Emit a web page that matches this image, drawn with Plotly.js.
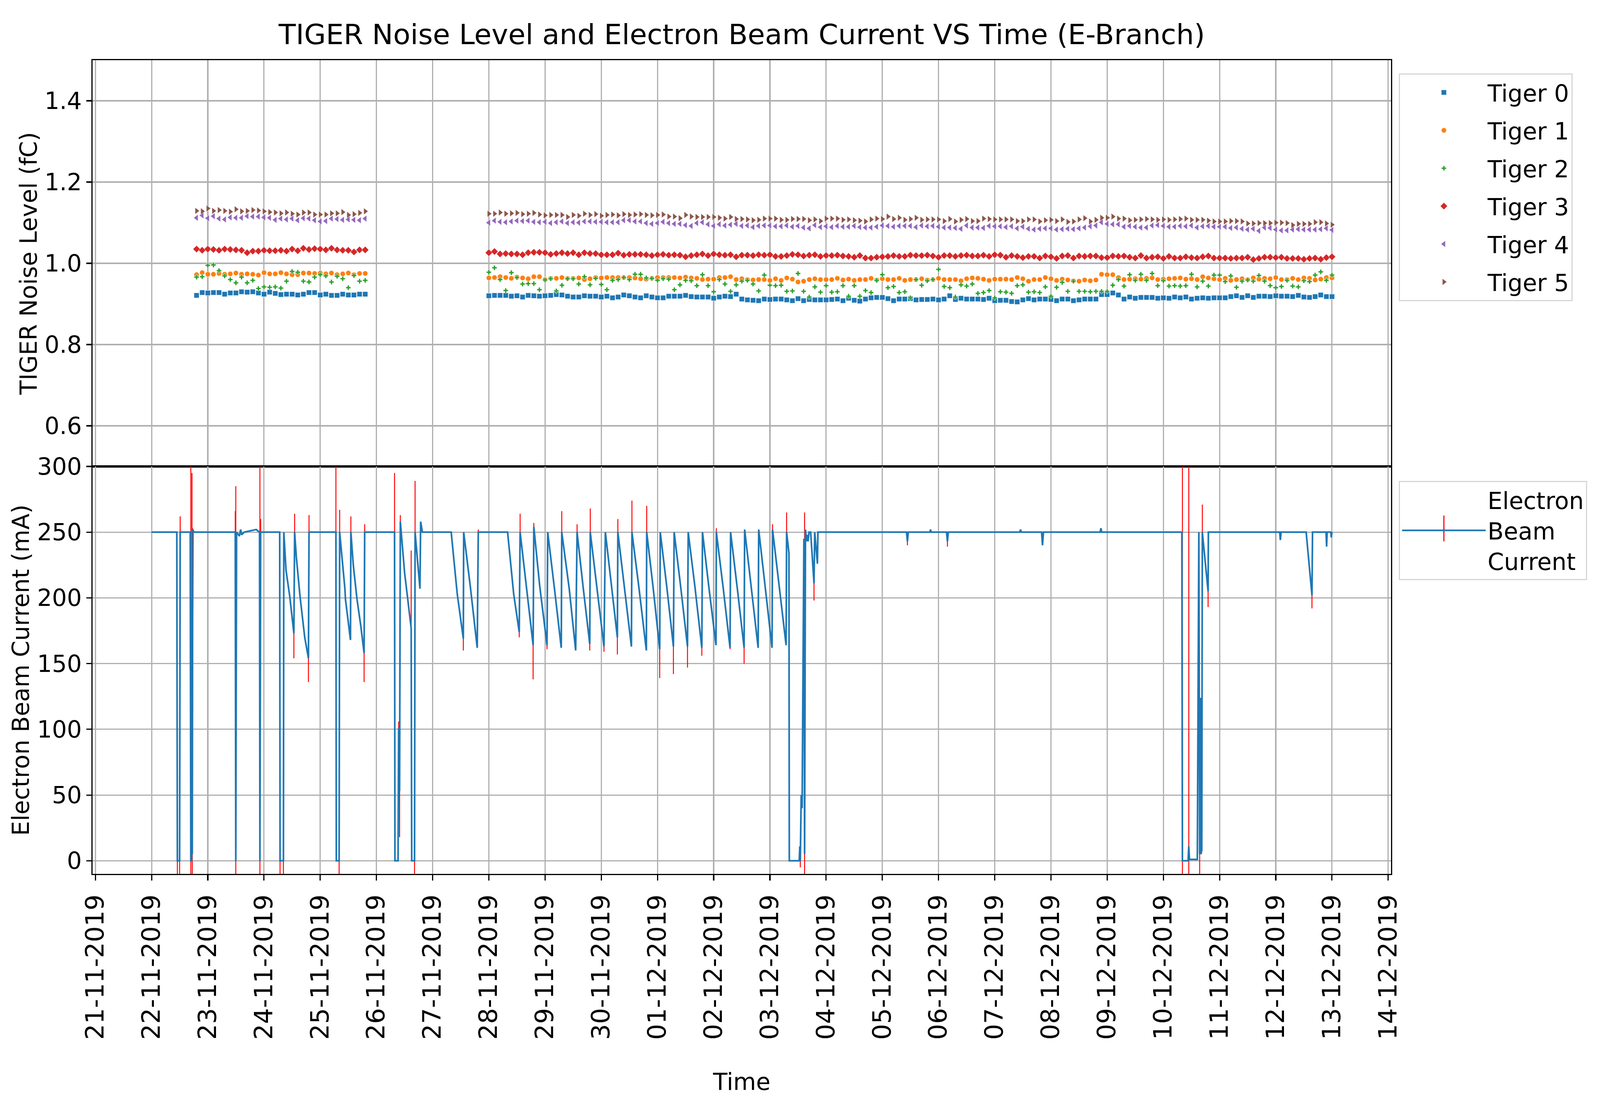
<!DOCTYPE html>
<html><head><meta charset="utf-8">
<script src="https://cdn.plot.ly/plotly-3.0.1.min.js"></script>
<style>html,body{margin:0;padding:0;background:#fff;overflow:hidden;}</style>
</head><body><div id="chart"></div>
<script>
// ---------- DATA ----------
const seriesNames = ['Tiger 0', 'Tiger 1', 'Tiger 2', 'Tiger 3', 'Tiger 4', 'Tiger 5'];
const seriesColors = ['#1f77b4', '#ff7f0e', '#2ca02c', '#d62728', '#9467bd', '#8c564b'];
const seriesSymbols = ['square', 'circle', 'cross', 'diamond', 'triangle-left', 'triangle-right'];
const seriesSizes = [13, 13, 10.5, 14, 15, 15];

// noise samples every 2.4 h, two runs
const run1Start = '2019-11-22T19:12:00Z', run1Count = 31;
const run2Start = '2019-11-28T00:00:00Z', run2Count = 151;
const sampleHours = 2.4;

const tiger0 = [0.921,0.928,0.927,0.928,0.928,0.924,0.927,0.927,0.930,0.929,0.930,0.927,0.924,0.929,0.926,0.923,0.924,0.924,0.922,0.924,0.928,0.928,0.922,0.924,0.921,0.921,0.924,0.922,0.922,0.924,0.924,
0.920,0.921,0.921,0.921,0.919,0.920,0.917,0.921,0.920,0.919,0.920,0.921,0.923,0.922,0.919,0.917,0.917,0.920,0.919,0.919,
0.917,0.919,0.915,0.917,0.922,0.920,0.917,0.915,0.920,0.917,0.915,0.915,0.919,0.919,0.919,0.921,0.918,0.917,0.917,0.917,
0.914,0.917,0.919,0.918,0.924,0.912,0.910,0.909,0.908,0.912,
0.911,0.912,0.912,0.910,0.908,0.913,0.908,0.911,0.910,0.910,0.910,0.911,0.912,0.908,0.914,0.909,0.907,0.912,0.915,0.916,
0.916,0.913,0.908,0.912,0.912,0.913,0.910,0.911,0.911,0.912,0.910,0.912,0.920,0.911,0.914,0.912,0.912,0.912,0.911,0.914,
0.908,0.909,0.909,0.906,0.905,0.910,0.913,0.910,0.912,0.912,
0.911,0.908,0.912,0.912,0.908,0.910,0.912,0.912,0.912,0.923,0.923,0.927,0.922,0.912,0.917,0.914,0.916,0.916,0.916,0.914,
0.915,0.914,0.917,0.915,0.917,0.912,0.914,0.915,0.914,0.915,0.915,0.915,0.918,0.920,0.916,0.920,0.916,0.919,0.919,0.918,
0.920,0.919,0.919,0.918,0.921,0.917,0.916,0.918,0.922,0.918,0.918];

const tiger1 = [0.972,0.977,0.973,0.973,0.975,0.973,0.974,0.976,0.973,0.974,0.973,0.971,0.977,0.974,0.974,0.977,0.974,0.972,0.972,0.976,0.976,0.975,0.976,0.974,0.976,0.972,0.974,0.976,0.972,0.975,0.975,
0.964,0.965,0.967,0.965,0.963,0.966,0.964,0.962,0.967,0.967,0.960,0.963,0.963,0.965,0.963,0.963,0.964,0.960,0.962,0.965,
0.964,0.965,0.965,0.965,0.965,0.965,0.964,0.962,0.961,0.963,0.965,0.965,0.965,0.965,0.964,0.966,0.964,0.963,0.960,0.961,
0.961,0.965,0.965,0.967,0.960,0.962,0.960,0.959,0.960,0.960,
0.958,0.962,0.958,0.964,0.961,0.954,0.956,0.960,0.962,0.960,0.960,0.960,0.963,0.959,0.961,0.958,0.960,0.960,0.963,0.959,
0.962,0.960,0.960,0.963,0.958,0.960,0.960,0.962,0.959,0.960,0.963,0.960,0.960,0.960,0.957,0.962,0.964,0.963,0.961,0.958,
0.961,0.961,0.961,0.960,0.965,0.962,0.956,0.960,0.960,0.965,
0.962,0.958,0.961,0.959,0.957,0.956,0.959,0.957,0.959,0.973,0.972,0.972,0.965,0.960,0.961,0.962,0.961,0.963,0.964,0.960,
0.961,0.962,0.963,0.964,0.961,0.962,0.960,0.967,0.964,0.962,0.960,0.963,0.958,0.960,0.962,0.960,0.964,0.961,0.963,0.962,
0.965,0.960,0.960,0.963,0.960,0.964,0.963,0.959,0.961,0.965,0.964];

const tiger2 = [0.966,0.967,0.995,0.996,0.982,0.969,0.960,0.952,0.966,0.952,0.958,0.938,0.942,0.941,0.942,0.939,0.956,0.980,0.978,0.956,0.954,0.966,0.972,0.969,0.954,0.968,0.962,0.940,0.970,0.956,0.958,
0.978,0.989,0.960,0.933,0.977,0.965,0.949,0.950,0.950,0.935,0.959,0.962,0.932,0.946,0.962,0.962,0.949,0.967,0.947,0.963,
0.948,0.935,0.958,0.960,0.965,0.960,0.973,0.973,0.964,0.963,0.958,0.962,0.961,0.935,0.947,0.958,0.957,0.945,0.972,0.945,
0.930,0.960,0.949,0.931,0.947,0.956,0.958,0.949,0.932,0.971,
0.946,0.945,0.946,0.931,0.932,0.975,0.931,0.917,0.942,0.929,0.945,0.929,0.930,0.945,0.919,0.945,0.919,0.933,0.928,0.958,
0.972,0.940,0.943,0.928,0.930,0.915,0.960,0.946,0.957,0.960,0.985,0.943,0.940,0.917,0.947,0.944,0.949,0.926,0.928,0.933,
0.915,0.930,0.929,0.926,0.945,0.947,0.929,0.930,0.928,0.942,
0.919,0.941,0.953,0.931,0.956,0.931,0.931,0.930,0.931,0.931,0.931,0.946,0.960,0.944,0.972,0.958,0.973,0.958,0.975,0.945,
0.957,0.944,0.945,0.944,0.945,0.973,0.942,0.956,0.944,0.971,0.971,0.955,0.969,0.941,0.956,0.959,0.956,0.970,0.956,0.945,
0.940,0.943,0.958,0.944,0.942,0.957,0.955,0.971,0.979,0.958,0.971];

const tiger3 = [1.035,1.032,1.035,1.034,1.032,1.035,1.034,1.033,1.032,1.026,1.030,1.030,1.032,1.031,1.031,1.032,1.030,1.035,1.031,1.037,1.034,1.036,1.035,1.033,1.037,1.033,1.032,1.032,1.028,1.033,1.033,
1.026,1.029,1.023,1.024,1.023,1.023,1.021,1.026,1.027,1.027,1.026,1.022,1.024,1.026,1.024,1.026,1.021,1.026,1.024,1.024,
1.021,1.021,1.021,1.025,1.020,1.022,1.022,1.022,1.021,1.019,1.021,1.022,1.020,1.021,1.020,1.016,1.019,1.021,1.023,1.019,
1.023,1.021,1.020,1.021,1.016,1.020,1.020,1.019,1.021,1.020,
1.021,1.017,1.017,1.019,1.022,1.021,1.018,1.020,1.021,1.017,1.019,1.019,1.020,1.018,1.017,1.015,1.019,1.013,1.013,1.015,
1.016,1.017,1.019,1.017,1.017,1.020,1.019,1.019,1.020,1.018,1.015,1.019,1.019,1.017,1.019,1.020,1.018,1.018,1.020,1.017,
1.021,1.020,1.015,1.019,1.017,1.014,1.017,1.017,1.013,1.018,
1.016,1.012,1.018,1.019,1.013,1.018,1.017,1.018,1.018,1.014,1.014,1.018,1.017,1.018,1.015,1.013,1.019,1.013,1.015,1.016,
1.012,1.017,1.013,1.013,1.016,1.014,1.013,1.016,1.018,1.013,1.013,1.013,1.012,1.013,1.013,1.015,1.009,1.012,1.015,1.015,
1.014,1.015,1.012,1.012,1.012,1.010,1.012,1.013,1.010,1.014,1.016];

const tiger4 = [1.112,1.118,1.111,1.116,1.110,1.108,1.113,1.112,1.112,1.116,1.115,1.115,1.113,1.112,1.107,1.110,1.108,1.110,1.106,1.111,1.110,1.106,1.103,1.104,1.110,1.109,1.107,1.108,1.107,1.106,1.110,
1.100,1.105,1.102,1.101,1.103,1.105,1.104,1.105,1.102,1.101,1.102,1.099,1.101,1.103,1.099,1.101,1.100,1.103,1.103,1.102,
1.102,1.101,1.101,1.101,1.106,1.106,1.103,1.103,1.099,1.097,1.099,1.102,1.099,1.097,1.097,1.094,1.092,1.099,1.101,1.096,
1.092,1.096,1.093,1.095,1.097,1.092,1.093,1.089,1.092,1.093,
1.093,1.091,1.091,1.093,1.090,1.092,1.088,1.086,1.094,1.089,1.091,1.089,1.092,1.090,1.090,1.092,1.089,1.088,1.088,1.090,
1.093,1.092,1.090,1.092,1.092,1.092,1.089,1.093,1.091,1.092,1.090,1.088,1.088,1.087,1.085,1.093,1.088,1.088,1.087,1.092,
1.091,1.091,1.089,1.091,1.086,1.090,1.085,1.083,1.085,1.086,
1.086,1.083,1.084,1.085,1.084,1.086,1.088,1.091,1.093,1.101,1.097,1.096,1.096,1.090,1.092,1.090,1.088,1.088,1.093,1.094,
1.092,1.090,1.090,1.092,1.091,1.093,1.088,1.091,1.092,1.090,1.090,1.090,1.087,1.088,1.085,1.083,1.085,1.080,1.088,1.087,
1.083,1.081,1.081,1.083,1.084,1.083,1.083,1.083,1.084,1.086,1.082];

const tiger5 = [1.129,1.128,1.135,1.129,1.131,1.129,1.127,1.133,1.128,1.129,1.131,1.130,1.128,1.126,1.125,1.123,1.125,1.122,1.120,1.125,1.125,1.120,1.120,1.120,1.123,1.123,1.126,1.119,1.121,1.124,1.128,
1.122,1.122,1.125,1.122,1.123,1.124,1.121,1.122,1.124,1.120,1.118,1.119,1.119,1.119,1.114,1.119,1.117,1.122,1.119,1.121,
1.117,1.119,1.120,1.118,1.121,1.119,1.120,1.121,1.119,1.118,1.119,1.120,1.115,1.115,1.111,1.119,1.115,1.114,1.114,1.114,
1.114,1.112,1.110,1.114,1.109,1.109,1.108,1.106,1.107,1.110,
1.110,1.110,1.107,1.107,1.109,1.109,1.109,1.106,1.108,1.104,1.110,1.110,1.110,1.107,1.108,1.106,1.105,1.103,1.108,1.110,
1.109,1.115,1.109,1.112,1.107,1.109,1.112,1.107,1.108,1.108,1.108,1.104,1.109,1.103,1.107,1.109,1.104,1.104,1.110,1.109,
1.108,1.108,1.108,1.108,1.104,1.104,1.108,1.108,1.103,1.106,
1.107,1.104,1.108,1.102,1.103,1.108,1.111,1.103,1.107,1.112,1.112,1.115,1.110,1.110,1.106,1.107,1.108,1.109,1.108,1.107,
1.108,1.107,1.108,1.109,1.110,1.107,1.107,1.107,1.105,1.103,1.103,1.103,1.104,1.104,1.103,1.098,1.098,1.099,1.099,1.099,
1.100,1.100,1.099,1.094,1.097,1.097,1.097,1.101,1.101,1.098,1.095];

// electron beam current (mA) with its error
const beamTime = [
'2019-11-22 00:00','2019-11-22 10:46','2019-11-22 11:00','2019-11-22 11:58','2019-11-22 12:12','2019-11-22 16:30','2019-11-22 16:45','2019-11-22 17:05','2019-11-22 17:15','2019-11-22 17:22','2019-11-22 17:30','2019-11-22 17:40','2019-11-22 18:00',
'2019-11-23 11:43','2019-11-23 11:57','2019-11-23 12:17','2019-11-23 13:30','2019-11-23 14:00','2019-11-23 14:30','2019-11-23 15:30','2019-11-23 20:40','2019-11-23 22:05','2019-11-23 22:15','2019-11-23 22:34',
'2019-11-24 06:42','2019-11-24 06:51','2019-11-24 08:17','2019-11-24 08:27','2019-11-24 09:24','2019-11-24 11:00','2019-11-24 12:45','2019-11-24 13:04','2019-11-24 13:48','2019-11-24 15:23','2019-11-24 17:23','2019-11-24 18:58','2019-11-24 19:13',
'2019-11-25 06:42','2019-11-25 06:52','2019-11-25 08:04','2019-11-25 08:18','2019-11-25 10:32','2019-11-25 10:46','2019-11-25 12:55','2019-11-25 13:05','2019-11-25 14:07','2019-11-25 15:42','2019-11-25 17:18','2019-11-25 18:44','2019-11-25 18:59',
'2019-11-26 07:44','2019-11-26 07:54','2019-11-26 09:14','2019-11-26 09:29','2019-11-26 09:53','2019-11-26 10:12','2019-11-26 12:02','2019-11-26 14:50','2019-11-26 15:04','2019-11-26 16:16','2019-11-26 16:30','2019-11-26 18:35','2019-11-26 18:53','2019-11-26 19:37',
'2019-11-27 07:55','2019-11-27 10:30','2019-11-27 13:06','2019-11-27 13:15','2019-11-27 16:04','2019-11-27 19:02','2019-11-27 19:29',
'2019-11-28 08:00','2019-11-28 10:36','2019-11-28 12:58','2019-11-28 13:21','2019-11-28 15:47','2019-11-28 18:54','2019-11-28 19:12','2019-11-28 21:43',
'2019-11-29 00:50','2019-11-29 01:08','2019-11-29 04:01','2019-11-29 06:55','2019-11-29 07:08','2019-11-29 10:19','2019-11-29 13:04','2019-11-29 13:40','2019-11-29 16:16','2019-11-29 19:05','2019-11-29 19:18','2019-11-29 22:11',
'2019-11-30 01:09','2019-11-30 01:45','2019-11-30 04:16','2019-11-30 06:52','2019-11-30 07:05','2019-11-30 09:54','2019-11-30 12:52','2019-11-30 13:06','2019-11-30 16:08','2019-11-30 19:15','2019-11-30 19:24','2019-11-30 22:08',
'2019-12-01 00:57','2019-12-01 01:11','2019-12-01 04:00','2019-12-01 06:48','2019-12-01 07:07','2019-12-01 09:56','2019-12-01 12:49','2019-12-01 13:07','2019-12-01 16:01','2019-12-01 18:56','2019-12-01 19:13','2019-12-01 22:01',
'2019-12-02 00:59','2019-12-02 01:08','2019-12-02 04:06','2019-12-02 06:59','2019-12-02 07:13','2019-12-02 10:06','2019-12-02 12:59','2019-12-02 13:13','2019-12-02 16:06','2019-12-02 18:59','2019-12-02 19:13','2019-12-02 22:02',
'2019-12-03 00:55','2019-12-03 01:08','2019-12-03 04:02','2019-12-03 06:55','2019-12-03 07:08','2019-12-03 08:08','2019-12-03 08:17','2019-12-03 12:32','2019-12-03 12:46','2019-12-03 12:59','2019-12-03 13:22','2019-12-03 13:45','2019-12-03 14:31','2019-12-03 14:49','2019-12-03 15:11','2019-12-03 15:39','2019-12-03 16:02','2019-12-03 16:19','2019-12-03 16:42','2019-12-03 17:24','2019-12-03 18:50','2019-12-03 19:08','2019-12-03 20:17','2019-12-03 20:30',
'2019-12-05 10:20','2019-12-05 10:43','2019-12-05 11:05','2019-12-05 20:20','2019-12-05 20:35','2019-12-05 20:50','2019-12-06 03:25','2019-12-06 03:48','2019-12-06 04:10',
'2019-12-07 10:40','2019-12-07 11:00','2019-12-07 11:20','2019-12-07 20:00','2019-12-07 20:24','2019-12-07 20:48','2019-12-08 21:00','2019-12-08 21:20','2019-12-08 21:40',
'2019-12-10 07:54','2019-12-10 08:08','2019-12-10 10:33','2019-12-10 10:51','2019-12-10 11:09','2019-12-10 14:30','2019-12-10 15:09','2019-12-10 15:30','2019-12-10 15:48','2019-12-10 16:02','2019-12-10 16:24','2019-12-10 16:38','2019-12-10 19:06','2019-12-10 19:13',
'2019-12-12 01:40','2019-12-12 01:57','2019-12-12 02:15','2019-12-12 12:58','2019-12-12 15:27','2019-12-12 15:41','2019-12-12 21:28','2019-12-12 21:42','2019-12-12 21:56','2019-12-12 23:30','2019-12-12 23:42','2019-12-13 00:00'];

const beamCurrent = [
250,250,0,0,250,250,0,0,200,5,183,252,250,
250,0,250,247,252,248,250,252,250,0,250,
250,0,0,250,221,201,173,250,231,201,170,154,250,
250,0,0,250,207,199,168,250,225,199,179,158,250,
250,0,0,101,53,258,219,177,0,0,250,207,258,250,
250,203,169,250,209,162,250,
250,203,174,250,213,164,254,209,
164,250,207,162,250,207,160,250,208,165,250,207,
163,250,210,170,250,208,163,250,207,160,250,208,
161,250,208,163,250,208,163,250,208,162,250,207,
164,250,207,162,250,207,162,252,208,162,252,208,
162,252,208,164,250,234,0,0,11,0,50,40,245,5,252,243,248,243,250,250,211,250,226,250,
250,243,250,250,252,250,250,243,250,
250,252,250,250,240,250,250,253,250,
250,0,0,11,1,1,250,5,124,5,8,250,205,250,
250,244,250,250,202,250,250,239,250,250,246,250];

const beamError = [
0,0,15,15,12,0,310,0,95,211,70,0,0,
16,285,0,0,0,0,0,0,0,310,10,
0,15,15,0,0,0,19,14,0,0,0,18,13,
60,0,15,17,0,0,0,12,0,0,0,22,6,
45,0,0,5,35,5,0,59,0,15,39,0,0,0,
0,0,9,0,0,0,2,
0,0,4,14,0,26,3,0,
3,0,0,0,16,0,0,6,0,5,18,0,
4,0,0,13,10,0,0,24,0,0,20,0,
22,0,0,21,0,0,16,0,0,6,0,0,
0,3,0,1,0,0,12,0,0,0,0,0,
0,4,0,0,15,0,0,0,0,5,0,0,0,260,0,0,0,0,0,0,13,0,0,0,
0,3,0,0,0,0,0,4,0,
0,0,0,0,0,0,0,0,0,
0,310,0,300,0,0,0,15,0,0,0,21,12,0,
0,0,0,0,10,0,0,0,0,0,0,0];

const xTickFormat = '%d-%m-%Y';
const titleText = 'TIGER Noise Level and Electron Beam Current VS Time (E-Branch)';
const beamLegendText = 'Electron<br>Beam<br>Current';

// ---------- BUILD ----------
function sampleTimes(start, n) {
  const t0 = Date.parse(start), out = [];
  for (let i = 0; i < n; i++) out.push(new Date(t0 + i * sampleHours * 3600000).toISOString().slice(0, 19).replace('T', ' '));
  return out;
}
const noiseTime = sampleTimes(run1Start, run1Count).concat(sampleTimes(run2Start, run2Count));
const tigers = [tiger0, tiger1, tiger2, tiger3, tiger4, tiger5];

// the design is laid out on a 4600 x 2826 grid and fitted to the real viewport
const W = window.innerWidth || 4096, H = window.innerHeight || 2826;
const sx = W / 4600, sy = H / 2826, sf = Math.sqrt(sx * sy);
document.getElementById('chart').style.width = W + 'px';
document.getElementById('chart').style.height = H + 'px';

const FONT = 'DejaVu Sans';
const FS = Math.round(64 * sf);
const traces = tigers.map((vals, i) => ({
  type: 'scatter', mode: 'markers', x: noiseTime, y: vals, name: seriesNames[i],
  xaxis: 'x', yaxis: 'y', legend: 'legend', legendgroup: 'g' + i,
  marker: { symbol: seriesSymbols[i], color: seriesColors[i], size: seriesSizes[i] * sy, line: { color: 'white', width: 0.8 } }
}));
traces.push({
  type: 'scatter', mode: 'lines', x: beamTime, y: beamCurrent, name: beamLegendText,
  xaxis: 'x2', yaxis: 'y2', legend: 'legend2',
  line: { color: '#1f77b4', width: 4.5 * sf },
  error_y: { type: 'data', array: beamError, visible: true, color: 'red', thickness: 2.6 * sf, width: 0 }
});

const L = 266 * sx, R = 3999 * sx, T = 154 * sy, B = 2237 * sy, MID = 1194 * sy;
const ph = B - T, pw = R - L;
const splitFrac = (B - MID) / ph;
const LW = 3.3 * sf;

const axCommon = {
  showline: true, mirror: true, linecolor: 'black', linewidth: LW,
  showgrid: true, gridcolor: '#b0b0b0', gridwidth: LW, zeroline: false,
  tickfont: { family: FONT, size: FS, color: 'black' }, tickcolor: 'black', tickwidth: LW
};
const xRange = ['2019-11-20 22:48', '2019-12-14 01:12'];

// legend geometry: symbol centre and text start follow the reference
const BW = LW;
const symCenterPx = 4151 * sx, textStartPx = 4277 * sx;
const IW = Math.round(2 * (textStartPx - symCenterPx - 5));
const legLeftPx = symCenterPx - BW - 5 - IW / 2;
const legendCommon = {
  font: { family: FONT, size: FS, color: 'black' }, bordercolor: '#d6d6d6', borderwidth: BW,
  bgcolor: 'rgba(255,255,255,0)', xanchor: 'left', yanchor: 'top', itemwidth: IW, itemclick: false
};
const legX = (legLeftPx - L) / pw;
const leg2TopPx = 1231 * sy;
const leg2CenterPx = leg2TopPx + BW + (3 * FS * 1.3 + 3) / 2;
const tickX = (symCenterPx - L) / pw;

const layout = {
  width: W, height: H, paper_bgcolor: 'white', plot_bgcolor: 'white',
  margin: { l: L, r: W - R, t: T, b: H - B, pad: 0 },
  font: { family: FONT, size: FS, color: 'black' },
  title: { text: titleText, font: { family: FONT, size: Math.round(76 * sf), color: 'black' }, xref: 'paper', x: 0.5, xanchor: 'center', yref: 'container', y: 1 - 88 * sy / H, yanchor: 'middle' },
  xaxis: Object.assign({}, axCommon, { type: 'date', range: xRange, anchor: 'y', showticklabels: false, ticks: '', dtick: 86400000, tick0: '2019-11-21' }),
  xaxis2: Object.assign({}, axCommon, { type: 'date', range: xRange, anchor: 'y2', matches: 'x', ticks: 'outside', ticklen: 14 * sy, dtick: 86400000, tick0: '2019-11-21', tickformat: xTickFormat, tickangle: -90, ticklabelstandoff: 10 * sy,
    tickfont: { family: FONT, size: 64 * sy, color: 'black' },
    title: { text: 'Time', font: { family: FONT, size: FS, color: 'black' }, standoff: 88 * sy } }),
  yaxis: Object.assign({}, axCommon, { domain: [splitFrac, 1], anchor: 'x', range: [0.5, 1.5], tickvals: [0.6, 0.8, 1.0, 1.2, 1.4], tickformat: '.1f', ticks: 'outside', ticklen: 14 * sx, ticklabelstandoff: 10 * sx,
    title: { text: 'TIGER Noise Level (fC)', font: { family: FONT, size: FS, color: 'black' }, standoff: 1 } }),
  yaxis2: Object.assign({}, axCommon, { domain: [0, splitFrac], anchor: 'x2', range: [-10, 300], dtick: 50, tick0: 0, ticks: 'outside', ticklen: 14 * sx, ticklabelstandoff: 10 * sx,
    title: { text: 'Electron Beam Current (mA)', font: { family: FONT, size: FS, color: 'black' }, standoff: 1 } }),
  legend: Object.assign({}, legendCommon, { x: legX, y: (B - 188 * sy) / ph, tracegroupgap: 16 * sy, itemsizing: 'trace' }),
  legend2: Object.assign({}, legendCommon, { x: legX, y: (B - leg2TopPx) / ph }),
  shapes: [{ type: 'line', xref: 'paper', yref: 'paper', x0: tickX, x1: tickX,
    y0: (B - leg2CenterPx - 33 * sy) / ph, y1: (B - leg2CenterPx + 33 * sy) / ph, line: { color: 'red', width: 3 * sf }, layer: 'above' }],
  showlegend: true
};

Plotly.newPlot('chart', traces, layout, { staticPlot: true, displayModeBar: false });
</script></body></html>
